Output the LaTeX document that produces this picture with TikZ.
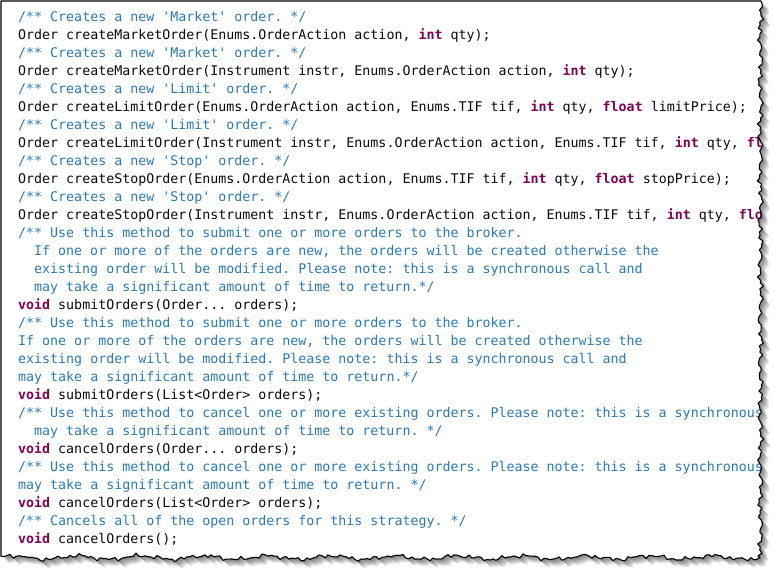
\documentclass[tikz,border=0pt]{standalone}
\usepackage{fontspec}
\setmonofont{DejaVu Sans Mono}
\definecolor{cmt}{RGB}{42,122,184}
\definecolor{kwc}{RGB}{127,0,85}
\definecolor{txt}{RGB}{10,10,10}
\newcommand\kw[1]{\textcolor{kwc}{\bfseries #1}}
\tikzset{
  codeline/.style={anchor=base west, inner sep=0pt, font=\ttfamily\fontsize{13.3}{16}\selectfont, text=txt},
  cmtline/.style={codeline, text=cmt},
  paperedge/.style={draw=black, line width=1.1pt, line join=round},
}
\def\paper{(1,1) -- (761,1)
  \foreach \i in {1,...,185} { -- ({760.5+1.5*sin(\i*77)+1.1*sin(mod(\i,53)*191)+0.9*sin(\i*23)}, {1+\i*3}) }
  \foreach \j in {0,...,253} { -- ({760-\j*3}, {557.5+1.1*sin(mod(\j,61)*97)+0.9*sin(mod(\j,47)*211)+1.8*sin(\j*17)+0.8*sin(\j*41)}) }
  -- cycle}
\begin{document}
\begin{tikzpicture}[x=1pt,y=-1pt]
\useasboundingbox (0,0) rectangle (774,574);
\fill[white] (0,0) rectangle (774,574);
% shadow
\foreach \k in {1,...,7} { \fill[black,opacity=0.085,shift={(\k,\k)}] \paper; }
% paper
\fill[white] \paper;
\begin{scope}
\clip \paper;
\node[cmtline]  (l1)  at (18, 21.5) {/** Creates a new 'Market' order. */};
\node[codeline] (l2)  at (18, 39.5) {Order createMarketOrder(Enums.OrderAction action, \kw{int} qty);};
\node[cmtline]  (l3)  at (18, 57.5) {/** Creates a new 'Market' order. */};
\node[codeline] (l4)  at (18, 75.5) {Order createMarketOrder(Instrument instr, Enums.OrderAction action, \kw{int} qty);};
\node[cmtline]  (l5)  at (18, 93.5) {/** Creates a new 'Limit' order. */};
\node[codeline] (l6)  at (18,111.5) {Order createLimitOrder(Enums.OrderAction action, Enums.TIF tif, \kw{int} qty, \kw{float} limitPrice);};
\node[cmtline]  (l7)  at (18,129.5) {/** Creates a new 'Limit' order. */};
\node[codeline] (l8)  at (18,147.5) {Order createLimitOrder(Instrument instr, Enums.OrderAction action, Enums.TIF tif, \kw{int} qty, \kw{float} limitPrice);};
\node[cmtline]  (l9)  at (18,165.5) {/** Creates a new 'Stop' order. */};
\node[codeline] (l10) at (18,183.5) {Order createStopOrder(Enums.OrderAction action, Enums.TIF tif, \kw{int} qty, \kw{float} stopPrice);};
\node[cmtline]  (l11) at (18,201.5) {/** Creates a new 'Stop' order. */};
\node[codeline] (l12) at (18,219.5) {Order createStopOrder(Instrument instr, Enums.OrderAction action, Enums.TIF tif, \kw{int} qty, \kw{float} stopPrice);};
\node[cmtline]  (l13) at (18,237.5) {/** Use this method to submit one or more orders to the broker.};
\node[cmtline]  (l14) at (34,255.5) {If one or more of the orders are new, the orders will be created otherwise the};
\node[cmtline]  (l15) at (34,273.5) {existing order will be modified. Please note: this is a synchronous call and};
\node[cmtline]  (l16) at (34,291.5) {may take a significant amount of time to return.*/};
\node[codeline] (l17) at (18,309.5) {\kw{void} submitOrders(Order... orders);};
\node[cmtline]  (l18) at (18,327.5) {/** Use this method to submit one or more orders to the broker.};
\node[cmtline]  (l19) at (18,345.5) {If one or more of the orders are new, the orders will be created otherwise the};
\node[cmtline]  (l20) at (18,363.5) {existing order will be modified. Please note: this is a synchronous call and};
\node[cmtline]  (l21) at (18,381.5) {may take a significant amount of time to return.*/};
\node[codeline] (l22) at (18,399.5) {\kw{void} submitOrders(List<Order> orders);};
\node[cmtline]  (l23) at (18,417.5) {/** Use this method to cancel one or more existing orders. Please note: this is a synchronous call and};
\node[cmtline]  (l24) at (34,435.5) {may take a significant amount of time to return. */};
\node[codeline] (l25) at (18,453.5) {\kw{void} cancelOrders(Order... orders);};
\node[cmtline]  (l26) at (18,471.5) {/** Use this method to cancel one or more existing orders. Please note: this is a synchronous call and};
\node[cmtline]  (l27) at (18,489.5) {may take a significant amount of time to return. */};
\node[codeline] (l28) at (18,507.5) {\kw{void} cancelOrders(List<Order> orders);};
\node[cmtline]  (l29) at (18,525.5) {/** Cancels all of the open orders for this strategy. */};
\node[codeline] (l30) at (18,543.5) {\kw{void} cancelOrders();};
\end{scope}
\draw[paperedge] \paper;
\end{tikzpicture}
\end{document}
